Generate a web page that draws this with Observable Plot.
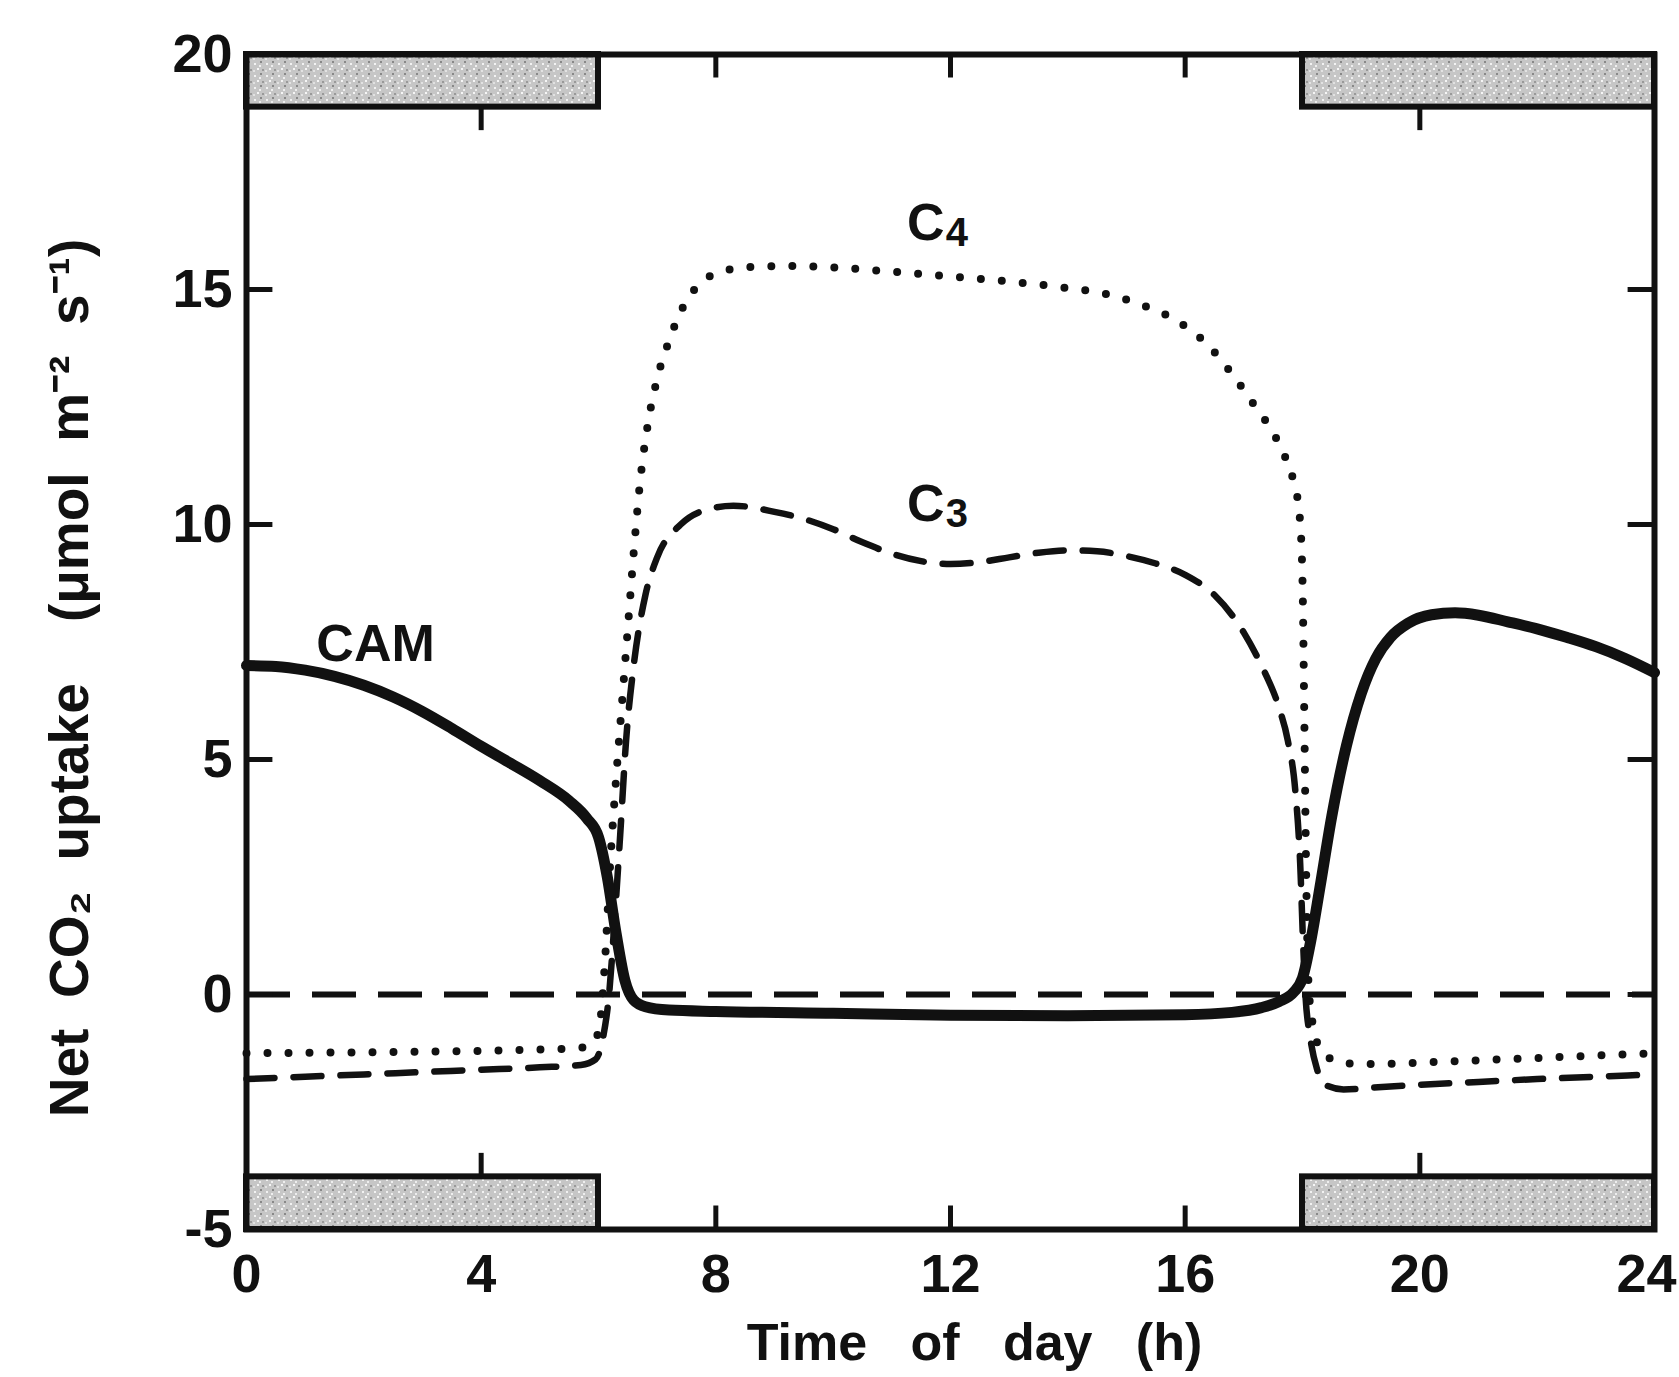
<!DOCTYPE html>
<html><head><meta charset="utf-8">
<script src="https://cdn.jsdelivr.net/npm/d3@7"></script>
<script src="https://cdn.jsdelivr.net/npm/@observablehq/plot@0.6"></script>
<style>body{margin:0;background:#fff}</style>
</head><body><div id="chart"></div>
<script>
// ---- data ----
const camHours  = [0,0.5,1,1.5,2,2.5,3,3.5,4,4.5,5,5.5,5.8,6.0,6.15,6.3,6.45,6.6,6.8,7.2,8,10,12,14,16,16.8,17.3,17.6,17.85,18.0,18.15,18.3,18.5,18.75,19.0,19.25,19.5,19.8,20.2,20.6,21.0,21.5,22,22.5,23,23.5,24];
const camValues = [7.0,6.98,6.9,6.77,6.58,6.33,6.02,5.66,5.28,4.92,4.55,4.12,3.75,3.35,2.5,1.3,0.3,-0.12,-0.26,-0.33,-0.36,-0.4,-0.44,-0.45,-0.43,-0.38,-0.28,-0.15,0.05,0.35,1.2,2.3,3.8,5.3,6.4,7.15,7.6,7.9,8.08,8.12,8.07,7.93,7.78,7.6,7.4,7.15,6.85];

const c4Hours  = [0,2,4,5,5.6,5.85,6.0,6.1,6.2,6.3,6.4,6.5,6.6,6.7,6.85,7.0,7.2,7.45,7.75,8.1,8.6,9.2,10,11,12,13,14,14.6,15.2,15.9,16.4,16.8,17.2,17.5,17.7,17.85,17.95,18.0,18.03,18.06,18.1,18.17,18.3,18.5,18.8,19.3,20,21,22,23,24];
const c4Values = [-1.25,-1.23,-1.2,-1.17,-1.15,-1.08,-0.8,0.5,2.8,4.6,6.2,7.8,9.4,10.8,12.2,13.1,13.9,14.65,15.15,15.38,15.48,15.5,15.47,15.38,15.28,15.17,15.03,14.92,14.7,14.3,13.8,13.2,12.5,11.95,11.45,10.9,10.2,8.8,6.0,2.8,0.3,-0.6,-1.15,-1.38,-1.47,-1.48,-1.45,-1.4,-1.35,-1.3,-1.25];

const c3Hours  = [0,1,2,3,4,5,5.7,5.95,6.08,6.18,6.27,6.37,6.47,6.6,6.8,7.0,7.4,7.8,8.3,9.0,9.5,10,10.5,11,11.5,12,12.5,13,13.5,14,14.5,15,15.5,16,16.5,17,17.3,17.6,17.75,17.88,17.96,18.01,18.05,18.13,18.25,18.4,18.7,19.2,20,21,22,23,24];
const c3Values = [-1.8,-1.75,-1.7,-1.65,-1.6,-1.55,-1.5,-1.38,-0.9,0.0,1.5,3.4,5.4,7.0,8.5,9.3,10.0,10.3,10.4,10.27,10.12,9.9,9.62,9.38,9.22,9.16,9.2,9.3,9.4,9.45,9.43,9.33,9.17,8.93,8.5,7.7,7.0,6.1,5.4,4.3,2.8,1.1,0.0,-0.9,-1.6,-1.93,-2.02,-1.98,-1.92,-1.86,-1.8,-1.75,-1.7];

const xTicks = [0,4,8,12,16,20,24];
const yTicks = [-5,0,5,10,15,20];
const nightStart = [0,18];
const nightEnd   = [6,24];
const bandDepth = 1.12;          // height of the dark-period bars (y units)

const labelText  = ["CAM","C","C"];
const labelSub   = ["","4","3"];
const labelHour  = [2.2,11.9,11.9];
const labelValue = [7.45,16.4,10.42];

const xTitle = "Time\u00a0\u00a0 of\u00a0\u00a0 day\u00a0\u00a0 (h)";
const yTitle = "Net\u00a0 CO\u2082\u00a0 uptake\u00a0\u00a0\u00a0 (\u03bcmol\u00a0 m\u207b\u00b2\u00a0 s\u207b\u00b9)";

// ---- tables built from the arrays ----
const toRows = (hs, vs) => hs.map((h, i) => ({h, v: vs[i]}));
const cam = toRows(camHours, camValues);
const c4 = toRows(c4Hours, c4Values);
const c3 = toRows(c3Hours, c3Values);
const [yMin, yMax] = [yTicks[0], yTicks[yTicks.length - 1]];
const [xMin, xMax] = [xTicks[0], xTicks[xTicks.length - 1]];
const bands = [];
nightStart.forEach((s, i) => {
  bands.push({x1: s, x2: nightEnd[i], y1: yMax - bandDepth, y2: yMax});
  bands.push({x1: s, x2: nightEnd[i], y1: yMin, y2: yMin + bandDepth});
});
const inNight = x => nightStart.some((s, i) => x > s && x < nightEnd[i]);
const innerX = xTicks.filter(x => x > xMin && x < xMax);
const tickLenY = 0.5, tickLenX = 0.45;
const xTickRules = [];
innerX.forEach(x => {
  const b = inNight(x) ? yMin + bandDepth : yMin;
  const t = inNight(x) ? yMax - bandDepth : yMax;
  xTickRules.push({x, y1: b, y2: b + tickLenY});
  xTickRules.push({x, y1: t, y2: t - tickLenY});
});
const innerY = yTicks.filter(y => y > yMin && y < yMax);
const yTickRules = [];
innerY.forEach(y => {
  yTickRules.push({y, x1: xMin, x2: xMin + tickLenX});
  yTickRules.push({y, x1: xMax, x2: xMax - tickLenX});
});
const labels = labelText.map((t, i) => ({t, s: labelSub[i], h: labelHour[i], v: labelValue[i]}));
const mainLabels = labels.filter(d => !d.s);
const subLabels = labels.filter(d => d.s);

const font = "'Liberation Sans', Arial, Helvetica, sans-serif";
const ink = "#111";

const chart = Plot.plot({
  width: 1679,
  height: 1377,
  marginLeft: 246,
  marginRight: 25,
  marginTop: 54,
  marginBottom: 148,
  style: {fontFamily: font, fontWeight: "bold", color: ink, background: "#fff"},
  x: {domain: [xMin, xMax], axis: null},
  y: {domain: [yMin, yMax], axis: null},
  marks: [
    Plot.rect(bands, {x1: "x1", x2: "x2", y1: "y1", y2: "y2", fill: "url(#stipple)", stroke: ink, strokeWidth: 6}),
    Plot.ruleY([0], {stroke: ink, strokeWidth: 6, strokeDasharray: "44,22"}),
    Plot.line(c3, {x: "h", y: "v", stroke: ink, strokeWidth: 6.5, strokeDasharray: "28,19", curve: "monotone-x"}),
    Plot.line(c4, {x: "h", y: "v", stroke: ink, strokeWidth: 8, strokeDasharray: "0,21", strokeLinecap: "round", curve: "monotone-x"}),
    Plot.line(cam, {x: "h", y: "v", stroke: ink, strokeWidth: 11, curve: "monotone-x"}),
    Plot.ruleX(xTickRules, {x: "x", y1: "y1", y2: "y2", stroke: ink, strokeWidth: 5}),
    Plot.ruleY(yTickRules, {y: "y", x1: "x1", x2: "x2", stroke: ink, strokeWidth: 5}),
    Plot.frame({stroke: ink, strokeWidth: 6}),
    Plot.axisX({ticks: xTicks.slice(0, -1), tickSize: 0, tickPadding: 24, fontSize: 54, tickFormat: d => String(d)}),
    Plot.axisX({ticks: xTicks.slice(-1), tickSize: 0, tickPadding: 24, fontSize: 54, textAnchor: "end", dx: 22, tickFormat: d => String(d)}),
    Plot.axisY({ticks: yTicks, tickSize: 0, tickPadding: 14, fontSize: 54, tickFormat: d => String(d)}),
    Plot.text(mainLabels, {x: "h", y: "v", text: "t", fontSize: 52, fill: ink}),
    Plot.text(subLabels, {x: "h", y: "v", text: "t", fontSize: 52, fill: ink, textAnchor: "end"}),
    Plot.text(subLabels, {x: "h", y: "v", text: "s", fontSize: 40, fill: ink, textAnchor: "start", dx: 1, dy: 9}),
    Plot.text([xTitle], {frameAnchor: "bottom", lineAnchor: "middle", dx: 24, dy: 114, fontSize: 52, fill: ink}),
    Plot.text([yTitle], {frameAnchor: "left", textAnchor: "middle", lineAnchor: "middle", rotate: -90, dx: -176, dy: 36, fontSize: 55, fill: ink})
  ]
});

// stipple pattern for the dark-period bars
const ns = "http://www.w3.org/2000/svg";
const defs = document.createElementNS(ns, "defs");
const pat = document.createElementNS(ns, "pattern");
pat.setAttribute("id", "stipple");
pat.setAttribute("patternUnits", "userSpaceOnUse");
pat.setAttribute("width", "12");
pat.setAttribute("height", "12");
const bg = document.createElementNS(ns, "rect");
bg.setAttribute("width", "12"); bg.setAttribute("height", "12"); bg.setAttribute("fill", "#c6c6c6");
pat.appendChild(bg);
[[2,3,"#f2f2f2"],[8,1,"#888"],[5,8,"#f6f6f6"],[10,9,"#999"],[1,10,"#e2e2e2"],[7,5,"#eee"]].forEach(([cx, cy, c]) => {
  const d = document.createElementNS(ns, "rect");
  d.setAttribute("x", cx); d.setAttribute("y", cy); d.setAttribute("width", "2"); d.setAttribute("height", "2"); d.setAttribute("fill", c);
  pat.appendChild(d);
});
defs.appendChild(pat);
chart.insertBefore(defs, chart.firstChild);

document.getElementById("chart").appendChild(chart);
</script>
</body></html>
